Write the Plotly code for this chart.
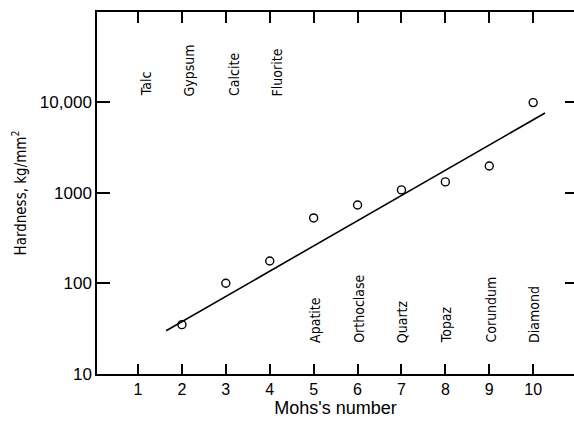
import plotly.graph_objects as go

# Data
mohs = [2, 3, 4, 5, 6, 7, 8, 9, 10]
hardness = [35, 100, 176, 525, 730, 1070, 1310, 1960, 9800]
fit_x = [1.64, 10.27]
fit_y = [30, 7530]
top_minerals = ["Talc", "Gypsum", "Calcite", "Fluorite"]
top_mohs = [1, 2, 3, 4]
bottom_minerals = ["Apatite", "Orthoclase", "Quartz", "Topaz", "Corundum", "Diamond"]
bottom_mohs = [5, 6, 7, 8, 9, 10]
x_ticks = [1, 2, 3, 4, 5, 6, 7, 8, 9, 10]
y_ticks = [10, 100, 1000, 10000]
y_ticktext = ["10", "100", "1000", "10,000"]

COND = "DejaVu Sans Condensed, Liberation Sans, sans-serif"
SANS = "Liberation Sans, Arial, sans-serif"

fig = go.Figure()
fig.add_trace(go.Scatter(x=fit_x, y=fit_y, mode="lines",
                         line=dict(color="black", width=1.6), showlegend=False,
                         hoverinfo="skip"))
fig.add_trace(go.Scatter(x=mohs, y=hardness, mode="markers",
                         marker=dict(symbol="circle-open", size=8, color="black",
                                     line=dict(width=1.4, color="black")),
                         showlegend=False))
fig.add_trace(go.Scatter(x=[None], y=[None], xaxis="x2", yaxis="y2", showlegend=False,
                         hoverinfo="skip"))

annotations = []
for name, m in zip(top_minerals, top_mohs):
    annotations.append(dict(x=m + 0.17, y=4.04, xref="x", yref="y", text=name,
                            textangle=-90, showarrow=False, xanchor="center",
                            yanchor="bottom", font=dict(family=COND, size=14, color="black")))
for name, m in zip(bottom_minerals, bottom_mohs):
    annotations.append(dict(x=m + 0.03, y=1.32, xref="x", yref="y", text=name,
                            textangle=-90, showarrow=False, xanchor="center",
                            yanchor="bottom", font=dict(family=COND, size=14, color="black")))

xr = [0.066, 10.93]
yr = [1, 4.99]
fig.update_layout(
    width=574, height=422,
    margin=dict(l=97, r=0, t=12, b=48),
    paper_bgcolor="white", plot_bgcolor="white",
    font=dict(family=SANS, color="black"),
    xaxis=dict(range=xr, tickvals=x_ticks, ticks="inside", ticklen=10, tickwidth=1.5,
               tickcolor="black", showline=True, linecolor="black", linewidth=1.5,
               showgrid=False, zeroline=False, tickfont=dict(size=16, family=SANS),
               title=dict(text="Mohs's number", font=dict(size=18, family=SANS), standoff=0)),
    xaxis2=dict(range=xr, overlaying="x", side="top", tickvals=x_ticks, ticks="inside",
                ticklen=11, tickwidth=1.5, tickcolor="black", showline=True,
                linecolor="black", linewidth=1.5, showticklabels=False, showgrid=False,
                zeroline=False),
    yaxis=dict(type="log", range=yr, tickvals=y_ticks, ticktext=y_ticktext, ticks="inside",
               ticklen=13, tickwidth=1.5, tickcolor="black", showline=True,
               linecolor="black", linewidth=1.5, showgrid=False, zeroline=False,
               tickfont=dict(size=17, family=SANS),
               title=dict(text="Hardness, kg/mm<sup>2</sup>", font=dict(size=15, family=COND),
                          standoff=10)),
    yaxis2=dict(type="log", range=yr, overlaying="y", side="right", tickvals=y_ticks,
                ticks="inside", ticklen=9, tickwidth=1.5, tickcolor="black",
                showline=False, showticklabels=False, showgrid=False, zeroline=False),
    annotations=annotations,
)

fig.write_html("out.html", config={"displayModeBar": False},
               post_script="document.body.style.margin='0';")
